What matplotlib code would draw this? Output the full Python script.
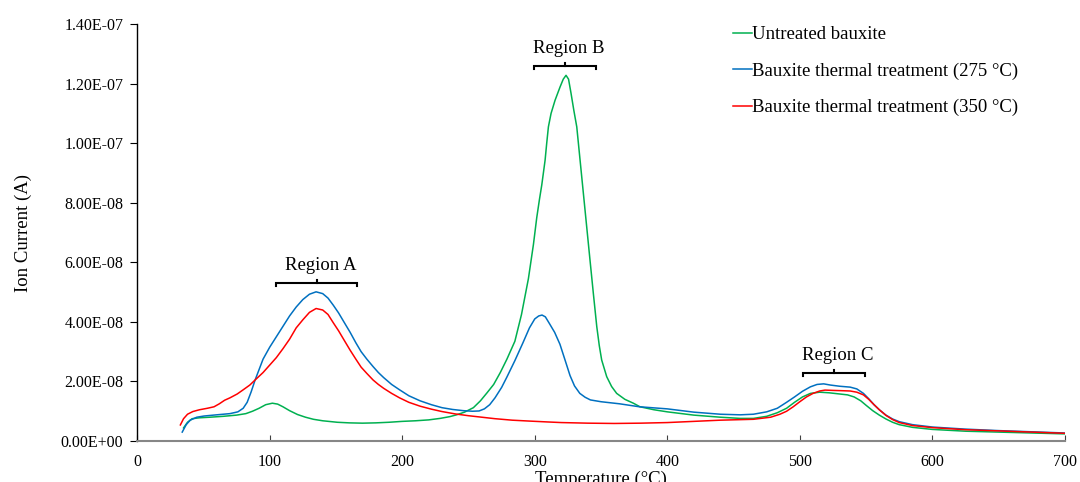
import matplotlib
matplotlib.use('Agg')
import matplotlib.pyplot as plt
from matplotlib.ticker import FuncFormatter, MultipleLocator

plt.rcParams['font.family'] = ['Liberation Serif', 'DejaVu Serif']

# values (ion current in 1e-8 A)
untreated_T = [35, 38, 41.5, 47, 55, 65, 75, 82, 87, 92, 97, 102, 106, 110, 115, 121, 127, 133,
               140, 151, 160, 170, 180, 190, 200, 210, 220, 228.6, 236, 241, 247, 253.7, 259, 264,
               269, 274, 279, 285, 290, 295.2, 299, 301.5, 303.5, 305.3, 307.8, 309, 310.3, 312.3,
               315.3, 319.1, 321.5, 323.6, 325.5, 327.4, 329.5, 331.7, 334.2, 336.7, 339.2, 341.7,
               344.2, 346.8, 348.7, 350.5, 354.3, 358, 361.8, 368, 374.4, 379.4, 390, 400, 420, 440,
               455, 465, 475, 483, 490, 496, 502, 508, 515, 522, 530, 536, 541, 546, 550, 555, 560,
               565, 570, 575, 585, 600, 625, 650, 675, 700]
untreated_I = [0.44, 0.63, 0.75, 0.78, 0.8, 0.83, 0.87, 0.92, 1.0, 1.1, 1.22, 1.27, 1.24, 1.15, 1.02, 0.89, 0.8, 0.73,
               0.68, 0.63, 0.61, 0.6, 0.61, 0.63, 0.66, 0.68, 0.71, 0.76, 0.82, 0.88, 0.97, 1.12, 1.35, 1.62,
               1.9, 2.3, 2.75, 3.35, 4.25, 5.45, 6.6, 7.5, 8.1, 8.6, 9.43, 9.99, 10.55, 11.0,
               11.44, 11.89, 12.15, 12.28, 12.15, 11.67, 11.1, 10.55, 9.43, 8.31, 7.19, 6.07,
               4.96, 3.84, 3.2, 2.72, 2.16, 1.83, 1.6, 1.4, 1.27, 1.15, 1.05, 0.98, 0.87, 0.8,
               0.76, 0.76, 0.83, 0.95, 1.1, 1.3, 1.48, 1.6, 1.64, 1.62, 1.58, 1.55, 1.48, 1.35, 1.2, 1.02, 0.87,
               0.74, 0.63, 0.55, 0.46, 0.39, 0.33, 0.3, 0.27, 0.24]

t275_T = [34, 37, 40, 45, 50.5, 60, 70, 76, 80, 83, 86, 89, 92, 95, 100, 105, 110, 115, 120, 125,
          130, 135, 140, 144, 148, 152, 156, 160.7, 165, 169, 173.3, 178, 182, 186, 192, 198, 205,
          213.5, 222, 230, 238, 246, 253, 258, 262, 266, 270, 275, 279, 285, 291, 296, 300, 303,
          305.5, 308, 311, 315, 319, 323, 326.6, 330, 334, 338, 342, 350, 364, 379, 400, 420, 440,
          455, 465, 475, 483, 490, 496, 502, 508, 513, 518, 523, 530, 538, 543, 548, 552, 556, 560,
          565, 570, 575, 585, 600, 625, 650, 675, 700]
t275_I = [0.3, 0.55, 0.7, 0.8, 0.84, 0.88, 0.92, 0.98, 1.1, 1.3, 1.65, 2.05, 2.4, 2.75, 3.15, 3.5, 3.85, 4.2, 4.5, 4.75,
          4.93, 5.01, 4.95, 4.8, 4.56, 4.3, 4.0, 3.65, 3.3, 3.0, 2.75, 2.5, 2.3, 2.13, 1.9, 1.72, 1.52,
          1.35, 1.22, 1.12, 1.06, 1.02, 1.0, 1.01, 1.08, 1.22, 1.45, 1.8, 2.15, 2.7, 3.29, 3.8, 4.1, 4.2,
          4.23, 4.17, 3.95, 3.65, 3.25, 2.7, 2.2, 1.85, 1.6, 1.47, 1.38, 1.32, 1.25, 1.15, 1.08, 0.97, 0.9,
          0.88, 0.9, 0.98, 1.1, 1.3, 1.48, 1.67, 1.82, 1.9, 1.92, 1.88, 1.84, 1.81, 1.75, 1.6, 1.42, 1.22, 1.05,
          0.87, 0.74, 0.65, 0.55, 0.47, 0.4, 0.35, 0.31, 0.27]

t350_T = [32.6, 35, 38, 42, 47, 53, 58, 62, 66, 70, 75.5, 80, 85, 89, 95, 100, 105, 110, 115, 120,
          125, 130, 135, 140, 144, 148, 152, 156, 160.7, 165, 169, 173.3, 178, 182, 186, 192, 198,
          205, 213.5, 222, 230, 240, 250, 260, 270, 283, 296, 310, 320, 340, 360, 380, 400, 420, 440,
          465, 478, 485, 490, 495, 500, 505, 510, 515, 519, 525, 532, 538, 543, 548, 552, 556, 560,
          565, 570, 575, 585, 600, 625, 650, 675, 700]
t350_I = [0.54, 0.75, 0.9, 0.99, 1.05, 1.1, 1.15, 1.25, 1.37, 1.45, 1.58, 1.72, 1.88, 2.05, 2.3, 2.55, 2.8, 3.1, 3.42, 3.8,
          4.07, 4.32, 4.45, 4.4, 4.25, 3.97, 3.7, 3.4, 3.05, 2.75, 2.48, 2.27, 2.05, 1.9, 1.77, 1.6, 1.45,
          1.3, 1.17, 1.07, 0.99, 0.91, 0.85, 0.8, 0.75, 0.7, 0.67, 0.64, 0.62, 0.6, 0.59, 0.6, 0.62, 0.66, 0.7,
          0.73, 0.8, 0.9, 1.0, 1.15, 1.32, 1.48, 1.6, 1.68, 1.71, 1.7, 1.69, 1.68, 1.64, 1.55, 1.4, 1.22, 1.05,
          0.86, 0.72, 0.62, 0.52, 0.45, 0.38, 0.34, 0.3, 0.26]

labels = ['Untreated bauxite', 'Bauxite thermal treatment (275 °C)', 'Bauxite thermal treatment (350 °C)']
colors = ['#00B050', '#0070C0', '#FF0000']

# region brackets: name, start, end, height (1e-8 A)
region_names = ['Region A', 'Region B', 'Region C']
region_start = [105, 299.5, 502.4]
region_end = [166, 346.2, 549]
region_y = [5.3, 12.6, 2.3]

scale = 1e-8

fig = plt.figure(figsize=(10.8, 4.82), dpi=100)
ax = fig.add_axes([0.127, 0.085, 0.859, 0.865])

series = [(untreated_T, untreated_I), (t275_T, t275_I), (t350_T, t350_I)]
for (T, I), lab, c in zip(series, labels, colors):
    ax.plot(T, [v * scale for v in I], color=c, lw=1.1, label=lab)

for name, x1, x2, y in zip(region_names, region_start, region_end, region_y):
    y = y * scale
    d = 0.1 * scale
    xm = (x1 + x2) / 2
    ax.plot([x1, x1, x2, x2], [y - d, y, y, y - d], color='black', lw=1.5, solid_joinstyle='miter')
    ax.plot([xm, xm], [y, y + d], color='black', lw=1.5)
    ax.text(xm + 3, y + 0.3 * scale, name, ha='center', va='bottom', fontsize=13.5)

ax.set_xlim(0, 700)
ax.set_ylim(0, 1.4e-7)
ax.xaxis.set_major_locator(MultipleLocator(100))
ax.yaxis.set_major_locator(MultipleLocator(2e-8))
ax.yaxis.set_major_formatter(FuncFormatter(lambda v, p: f'{v:.2E}'))

for s in ['top', 'right']:
    ax.spines[s].set_visible(False)
ax.spines['bottom'].set_color('#868686')
ax.spines['bottom'].set_linewidth(1.5)
ax.spines['left'].set_color('black')
ax.spines['left'].set_linewidth(1.0)
ax.tick_params(axis='x', direction='in', length=4, color='#404040', labelsize=11.5, pad=9)
ax.tick_params(axis='y', direction='out', length=5, color='black', labelsize=11.5, pad=5)

ax.set_xlabel('Temperature (°C)', fontsize=13.5, labelpad=1)
ax.set_ylabel('Ion Current (A)', fontsize=13.5)
ax.yaxis.set_label_coords(-0.113, 0.5)

ax.legend(loc='upper left', bbox_to_anchor=(0.642, 0.995), frameon=False, fontsize=13.5,
          handlelength=1.0, handletextpad=0.05, labelspacing=1.02, borderpad=0, borderaxespad=0)

fig.savefig('out.png', dpi=100)
